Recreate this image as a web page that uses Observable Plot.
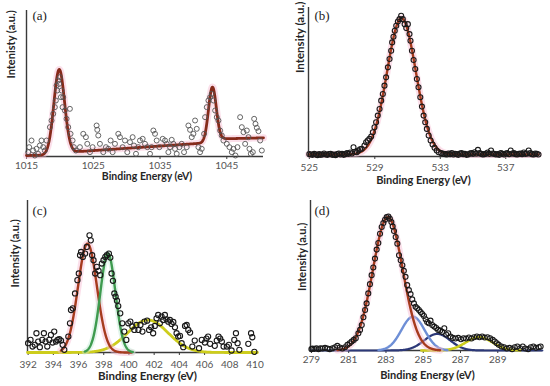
<!DOCTYPE html>
<html><head><meta charset="utf-8">
<script src="https://cdn.jsdelivr.net/npm/d3@7"></script>
<script src="https://cdn.jsdelivr.net/npm/@observablehq/plot@0.6"></script>
<style>
body{margin:0;background:#fff;}
#wrap{position:relative;width:550px;height:386px;overflow:hidden;background:#fff;}
.panel{position:absolute;width:275px;height:193px;}
</style></head><body><div id="wrap"></div>
<script>
// ---------- Panel (a) ----------
const aTicks = [1015, 1025, 1035, 1045];
const aEnergy = [1015.25,1015.4,1015.75,1016.0,1016.25,1016.5,1016.75,1017.0,1017.25,1017.5,1017.75,1018.0,
 1018.5,1018.75,1019.0,1019.25,1019.4,1019.5,1019.6,1019.75,1019.9,1020.0,1020.15,1020.25,1020.4,1020.5,1020.75,1021.0,1021.25,1021.5,1021.6,1021.9,1022.1,1022.4,
 1023.0,1023.5,1023.9,1024.1,1024.5,1024.9,1025.5,1025.6,1025.75,1026.0,1026.5,1026.9,1027.25,1027.6,1027.9,1028.25,1028.75,1029.0,1029.4,1029.75,1030.1,1030.5,1030.9,1031.1,1031.4,1031.75,1032.0,1032.4,1032.75,1033.1,1033.5,1033.75,1034.0,1034.25,1034.5,1034.9,1035.4,1035.75,1036.0,1036.25,1036.5,1036.75,1037.0,1037.25,1037.5,1037.9,1038.25,1038.6,1039.0,1039.25,1039.5,1039.75,1040.0,1040.25,1040.5,1040.75,1041.0,1041.25,
 1041.6,1041.75,1042.0,1042.25,1042.5,1042.75,1043.0,1043.25,1043.5,1043.75,1044.0,1044.25,1044.5,1045.0,1045.4,1045.75,1046.0,1046.3,1046.6,1047.0,1047.25,1047.5,1047.75,1048.0,1048.25,1048.4,1048.6,1048.9,1049.1,1049.3,1049.5,1049.75,1050.0,1050.25];
const aIntensity = [13,28,48,18,3,23,8,33,48,28,18,48,
 88,108,128,148,168,213,198,228,218,238,178,198,148,178,138,113,88,143,68,48,28,18,
 28,68,58,38,13,28,93,80,63,38,13,28,23,48,13,38,68,58,28,48,13,43,58,33,8,28,48,53,38,28,8,28,78,68,48,28,53,48,38,13,28,50,38,23,8,28,38,13,28,93,80,58,68,108,83,28,13,23,
 68,118,148,168,178,188,168,138,118,108,78,63,48,38,28,13,23,3,28,118,88,73,38,78,58,23,8,13,113,98,86,76,48,18];
const aPeakCenter = [1019.9, 1042.85];
const aPeakHeight = [253, 162];
const aPeakSigma = [0.8, 0.58];
const aBgEnergy = [1015, 1018.5, 1021.5, 1023, 1041.3, 1044.5, 1050.5];
const aBgIntensity = [3, 4, 13, 15, 40, 53, 56];

// ---------- Panel (b) ----------
const bTicks = [525, 529, 533, 537];
const bEnergy = [525.0,525.1,525.2,525.3,525.4,525.5,525.6,525.7,525.8,525.9,526.0,526.1,526.2,526.3,526.4,526.5,526.6,526.7,526.8,526.9,527.0,527.1,527.2,527.3,527.4,527.5,527.6,527.7,527.8,527.9,528.0,528.1,
 528.2,528.37,528.47,528.57,528.67,528.78,528.88,528.98,529.08,529.18,529.29,529.39,529.49,529.59,529.69,529.8,529.9,530.0,530.06,530.14,530.22,530.31,530.41,530.51,530.61,530.71,530.82,530.92,531.02,531.12,531.18,531.27,531.37,531.47,531.57,531.67,531.78,531.88,531.98,532.08,532.18,532.29,532.41,532.53,532.65,532.78,532.9,533.06,
 533.2,533.3,533.4,533.5,533.6,533.7,533.8,533.9,534.0,534.1,534.2,534.3,534.4,534.5,534.6,534.7,534.8,534.9,535.0,535.1,535.2,535.3,535.4,535.5,535.6,535.7,535.8,535.9,536.0,536.1,536.2,536.3,536.4,536.5,536.6,536.7,536.8,536.9,537.0,537.1,537.2,537.3,537.4,537.5,537.6,537.7,537.8,537.9,538.0,538.1,538.2,538.3,538.4,538.5,538.6,538.7,538.8,538.9,539.0];
const bIntensity = [7,6,5,8,6,4,7,5,6,9,6,5,7,8,5,6,4,7,9,6,8,5,7,10,8,12,9,28,14,13,18,22,
 23,33,43,48,53,60,73,88,103,123,143,168,188,213,238,268,293,318,343,360,378,393,406,413,423,413,398,386,398,368,348,318,290,263,233,208,178,150,123,103,83,63,48,36,26,18,13,10,
 8,7,6,9,7,10,6,8,7,5,9,10,7,8,5,6,9,10,8,13,9,20,10,8,6,7,9,12,8,18,9,8,6,7,5,10,8,6,9,10,7,18,9,10,7,6,8,9,7,12,8,9,18,10,7,6,9,8,6];
const bPeakCenter = [530.63];
const bPeakHeight = [410];
const bPeakSigma = [0.88];
const bBackground = 6;

// ---------- Panel (c) ----------
const cTicks = [392, 394, 396, 398, 400, 402, 404, 406, 408, 410];
const cEnergy = [392.0,392.19,392.35,392.53,392.66,392.8,392.93,393.12,393.25,393.38,393.52,393.68,393.81,393.94,394.07,394.21,394.34,394.47,394.61,394.74,394.87,
 395.19,395.32,395.4,395.54,395.72,395.91,396.02,396.12,396.2,396.34,396.52,396.65,396.87,396.97,397.08,397.19,397.32,397.45,397.59,397.72,
 397.85,397.98,398.12,398.25,398.41,398.52,398.62,398.73,398.84,398.94,399.05,399.15,399.31,399.47,399.63,399.79,
 399.95,400.11,400.27,400.43,400.59,400.75,400.91,401.07,401.23,401.44,401.6,401.76,401.92,402.05,402.19,402.32,402.45,402.59,402.72,402.85,402.98,403.12,403.25,403.38,403.52,403.65,403.78,403.91,404.05,404.18,404.31,404.45,404.58,404.71,404.85,405.03,405.22,405.56,405.78,406.02,406.15,406.28,406.44,406.81,406.97,407.11,407.24,407.37,407.51,407.77,407.93,408.14,408.36,408.49,408.62,408.76,409.47,409.69,409.79,409.95];
const cIntensity = [28,38,18,23,58,33,16,38,58,33,18,38,53,30,63,33,38,40,36,23,8,
 48,88,128,133,178,218,238,293,303,288,298,318,353,338,293,278,238,258,246,233,
 268,278,288,293,298,286,238,216,178,168,156,140,118,88,63,38,
 88,93,78,68,83,68,83,63,93,96,68,76,58,80,103,113,88,108,98,113,100,93,98,86,92,76,58,48,50,28,16,80,83,68,60,18,36,13,38,30,42,48,26,20,36,48,42,33,18,18,23,6,38,58,28,8,26,58,46,2];
const cCompCenter = [396.71, 398.33, 401.5];
const cCompHeight = [328, 298, 98];
const cCompSigma = [0.75, 0.6, 1.6];
const cCompFrom = [394.6, 396.5, 391.95];
const cCompTo = [400.2, 400.3, 410.2];

// ---------- Panel (d) ----------
const dTicks = [279, 281, 283, 285, 287, 289];
const dEnergy = [279.0,279.05,279.16,279.27,279.38,279.48,279.59,279.73,279.86,279.98,280.13,280.27,280.39,280.52,280.66,280.8,280.93,281.05,281.16,281.27,281.38,281.52,281.61,281.7,281.79,281.88,281.96,282.05,282.14,282.23,282.32,282.41,282.5,282.59,282.68,282.77,282.86,282.95,283.04,283.13,283.21,283.29,283.36,283.43,283.52,283.61,283.7,283.79,283.88,283.96,284.05,284.14,284.23,284.32,284.41,284.5,284.59,284.68,284.77,284.86,284.95,285.04,285.13,285.21,285.3,285.39,285.48,285.59,285.7,285.8,285.91,286.02,286.13,286.23,286.34,286.46,286.59,286.73,286.88,287.02,287.16,287.3,287.45,287.59,287.73,287.88,288.02,288.16,288.3,288.45,288.59,288.73,288.84,288.95,289.05,289.2,289.34,289.48,289.63,289.77,289.91,290.05,290.2,290.34,290.48,290.63,290.77,290.91,291.05,291.2,291.3];
const dIntensity = [4,6,5,7,4,7,6,8,6,4,7,10,14,9,6,10,17,22,27,32,37,52,62,77,100,122,142,172,200,227,250,277,304,324,352,372,384,394,402,404,397,387,374,360,342,322,287,272,257,240,222,197,182,170,154,142,132,127,122,116,110,104,94,86,82,90,77,72,68,62,60,56,67,48,52,42,38,36,38,34,37,36,39,36,40,42,40,42,39,40,37,32,27,22,17,12,10,6,8,4,10,12,7,12,6,4,10,12,8,10,12];
const dCompCenter = [285.75, 288.0, 284.45, 283.1];
const dCompHeight = [50, 40, 102, 402];
const dCompSigma = [0.7, 0.72, 0.62, 0.8];
const dCompFrom = [278.95, 284.9, 282.6, 280.4];
const dCompTo = [291.4, 290.2, 286.3, 285.9];

// ---------- drawing ----------
const FONT = "Lato, 'Open Sans', sans-serif";
const RED = "#a63b1e", PINK = "#f6b7d0", GREEN = "#3e9b4f", LGREEN = "#bfe8d2",
      YELLOW = "#cdcd1c", LBLUE = "#6e8fd6", NAVY = "#2c3878", AXIS = "#3a3a3a";

const gauss = (x, c, h, s) => h * Math.exp(-0.5 * ((x - c) / s) ** 2);
const grid = (a, b, step) => d3.range(a, b + step / 2, step);

function panel(o) {
  const marks = [
    Plot.ruleX([o.xDomain[0]], {stroke: AXIS, strokeWidth: 1.4}),
    Plot.ruleY([0], {stroke: AXIS, strokeWidth: 1.4}),
    Plot.axisX({ticks: o.ticks, tickSize: 3, tickPadding: o.tickPadding, tickFormat: d => `${d}`, label: null,
      stroke: AXIS, fill: "#555", fontSize: 10}),
    ...o.curves,
    Plot.dot(o.points, {x: "e", y: "i", r: o.dotR, stroke: o.dotStroke, strokeWidth: o.dotW, fill: "none"}),
    Plot.text([o.xLabel], {text: d => d, frameAnchor: "bottom", dy: o.xLabelDy, dx: o.xLabelDx, lineAnchor: "middle",
      fontWeight: "bold", fontSize: o.xLabelSize, fill: "#262626"}),
    Plot.text([o.yLabel], {text: d => d, frameAnchor: "left", dx: o.yLabelDx, dy: o.yLabelDy, rotate: -90, lineAnchor: "middle",
      fontWeight: "bold", fontSize: o.yLabelSize, fill: "#262626"}),
    Plot.text([o.tag], {text: d => d, frameAnchor: "top-left", textAnchor: "start", lineAnchor: "middle", dx: o.tagDx, dy: o.tagDy,
      fontFamily: "'Liberation Serif', 'DejaVu Serif', serif", fontSize: 13, fill: "#222"})
  ];
  return Plot.plot({
    width: 275, height: 193,
    marginLeft: o.m[0], marginRight: o.m[1], marginTop: o.m[2], marginBottom: o.m[3],
    x: {domain: o.xDomain, axis: null},
    y: {domain: o.yDomain, axis: null},
    style: {fontFamily: FONT, fontSize: "10px", color: "#404040", background: "transparent"},
    marks
  });
}

function comp(centers, heights, sigmas, from, to, i, step = 0.02) {
  return grid(from[i], to[i], step).map(e => ({e, i: gauss(e, centers[i], heights[i], sigmas[i])}));
}
const pts = (E, I) => E.map((e, k) => ({e, i: I[k]}));

// (a) fit = background + two peaks
const aBg = d3.scaleLinear().domain(aBgEnergy).range(aBgIntensity);
const aFit = grid(1015, 1050.5, 0.05).map(e => ({e, i: aBg(e) + aPeakCenter.reduce((s, c, k) => s + gauss(e, c, aPeakHeight[k], aPeakSigma[k]), 0)}));
// (b) fit
const bFit = grid(524.95, 539, 0.02).map(e => ({e, i: bBackground + gauss(e, bPeakCenter[0], bPeakHeight[0], bPeakSigma[0])}));

const HALO = 0.45;
const panels = [
  {pos: [0, 0], o: {
    m: [26, 12, 10, 37], xDomain: [1015, 1050.5], yDomain: [0, 438], ticks: aTicks, tickPadding: 2,
    points: pts(aEnergy, aIntensity), dotStroke: "#555", dotR: 2.5, dotW: 0.9,
    curves: [
      Plot.line(aFit, {x: "e", y: "i", stroke: PINK, strokeWidth: 7, strokeOpacity: HALO}),
      Plot.line(aFit, {x: "e", y: "i", stroke: "#862a1a", strokeWidth: 2.8})
    ],
    xLabel: "Binding Energy (eV)", xLabelDy: 20, xLabelDx: 2, xLabelSize: 10.5,
    yLabel: "Intenisty (a.u.)", yLabelDx: -15, yLabelDy: -5, yLabelSize: 11,
    tag: "(a)", tagDx: 6, tagDy: 5}},
  {pos: [275, 0], o: {
    m: [33, 12, 7, 37], xDomain: [524.95, 539], yDomain: [0, 448], ticks: bTicks, tickPadding: 4,
    points: pts(bEnergy, bIntensity), dotStroke: "#1a1a1a", dotR: 2.5, dotW: 1.1,
    curves: [
      Plot.line(bFit, {x: "e", y: "i", stroke: PINK, strokeWidth: 7, strokeOpacity: HALO}),
      Plot.line(bFit, {x: "e", y: "i", stroke: RED, strokeWidth: 2.4})
    ],
    xLabel: "Binding Energy (eV)", xLabelDy: 24, xLabelDx: 0, xLabelSize: 11,
    yLabel: "Intensity (a.u.)", yLabelDx: -8, yLabelDy: -9, yLabelSize: 11.5,
    tag: "(b)", tagDx: 6, tagDy: 8.5}},
  {pos: [0, 193], o: {
    m: [27, 18, 7, 34], xDomain: [391.95, 410.2], yDomain: [0, 458], ticks: cTicks, tickPadding: 5.5,
    points: pts(cEnergy, cIntensity), dotStroke: "#1a1a1a", dotR: 2.6, dotW: 1.1,
    curves: [
      Plot.line(comp(cCompCenter, cCompHeight, cCompSigma, cCompFrom, cCompTo, 2), {x: "e", y: "i", stroke: YELLOW, strokeWidth: 2.8}),
      Plot.line(comp(cCompCenter, cCompHeight, cCompSigma, cCompFrom, cCompTo, 0), {x: "e", y: "i", stroke: PINK, strokeWidth: 7, strokeOpacity: HALO}),
      Plot.line(comp(cCompCenter, cCompHeight, cCompSigma, cCompFrom, cCompTo, 1), {x: "e", y: "i", stroke: LGREEN, strokeWidth: 6, strokeOpacity: HALO}),
      Plot.line(comp(cCompCenter, cCompHeight, cCompSigma, cCompFrom, cCompTo, 0), {x: "e", y: "i", stroke: RED, strokeWidth: 2.4}),
      Plot.line(comp(cCompCenter, cCompHeight, cCompSigma, cCompFrom, cCompTo, 1), {x: "e", y: "i", stroke: GREEN, strokeWidth: 2.4})
    ],
    xLabel: "Binding Energy (eV)", xLabelDy: 23.5, xLabelDx: 5, xLabelSize: 11.5,
    yLabel: "Intensity (a.u.)", yLabelDx: -12, yLabelDy: 11, yLabelSize: 11,
    tag: "(c)", tagDx: 5, tagDy: 10}},
  {pos: [275, 193], o: {
    m: [35, 8, 7, 36], xDomain: [278.95, 291.4], yDomain: [0, 452], ticks: dTicks, tickPadding: 2.5,
    points: pts(dEnergy, dIntensity), dotStroke: "#1a1a1a", dotR: 2.5, dotW: 1.1,
    curves: [
      Plot.line(comp(dCompCenter, dCompHeight, dCompSigma, dCompFrom, dCompTo, 0), {x: "e", y: "i", stroke: NAVY, strokeWidth: 2.2}),
      Plot.line(comp(dCompCenter, dCompHeight, dCompSigma, dCompFrom, dCompTo, 1), {x: "e", y: "i", stroke: YELLOW, strokeWidth: 2.6}),
      Plot.line(comp(dCompCenter, dCompHeight, dCompSigma, dCompFrom, dCompTo, 2), {x: "e", y: "i", stroke: LBLUE, strokeWidth: 2.4}),
      Plot.line(comp(dCompCenter, dCompHeight, dCompSigma, dCompFrom, dCompTo, 3), {x: "e", y: "i", stroke: PINK, strokeWidth: 7, strokeOpacity: HALO}),
      Plot.line(comp(dCompCenter, dCompHeight, dCompSigma, dCompFrom, dCompTo, 3), {x: "e", y: "i", stroke: RED, strokeWidth: 2.4})
    ],
    xLabel: "Binding Energy (eV)", xLabelDy: 24.5, xLabelDx: 1, xLabelSize: 11,
    yLabel: "Intensity (a.u.)", yLabelDx: -8, yLabelDy: 15.5, yLabelSize: 11,
    tag: "(d)", tagDx: 4, tagDy: 10}}
];

const wrap = document.getElementById("wrap");
for (const p of panels) {
  const div = document.createElement("div");
  div.className = "panel";
  div.style.left = p.pos[0] + "px";
  div.style.top = p.pos[1] + "px";
  div.appendChild(panel(p.o));
  wrap.appendChild(div);
}
</script>
</body></html>
